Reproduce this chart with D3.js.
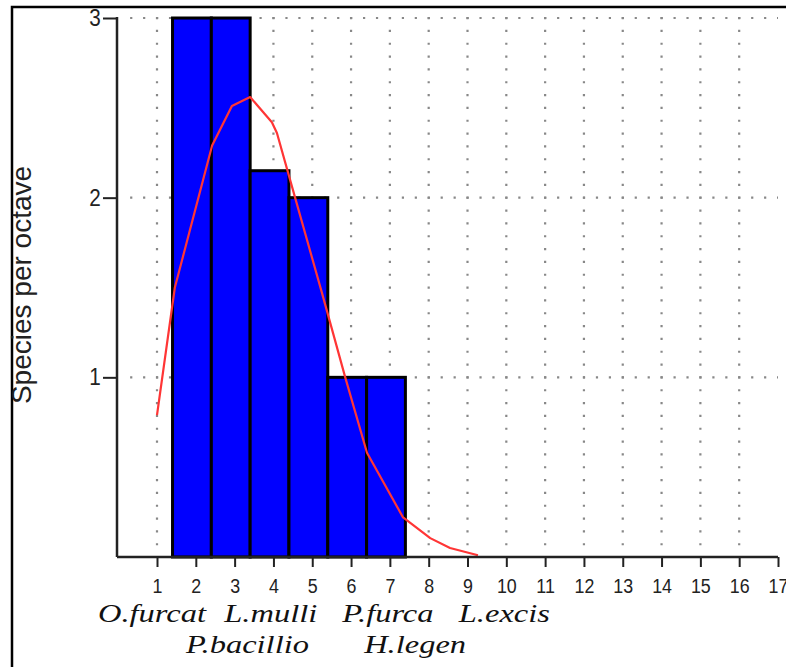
<!DOCTYPE html>
<html>
<head>
<meta charset="utf-8">
<script src="https://cdn.jsdelivr.net/npm/d3@7"></script>
<style>
  body { margin: 0; background: #fff; }
  svg { display: block; }
</style>
</head>
<body>
<div id="chart"></div>
<script>
// Octave histogram data
const octaves = [2, 3, 4, 5, 6, 7];
const speciesCounts = [3, 3, 2.15, 2, 1, 1];

// Fitted curve points (octave, species per octave)
const curveX = [1.0, 1.46, 2.42, 2.93, 3.40, 3.96, 4.09, 4.48, 5.25, 5.85, 6.41, 7.34, 8.04, 8.55, 9.27];
const curveY = [0.79, 1.5, 2.29, 2.51, 2.56, 2.42, 2.36, 2.06, 1.47, 1.0, 0.58, 0.22, 0.105, 0.05, 0.01];

// Axis ticks
const xTicks = d3.range(1, 18);
const yTicks = [1, 2, 3];

// Species labels under the axis (centre octave, text line)
const speciesNames = ['O.furcat', 'P.bacillio', 'L.mulli', 'H.legen', 'P.furca', 'L.excis'];
const speciesPos = [0.87, 3.33, 3.93, 7.65, 6.95, 9.95];
const speciesLine = [0, 1, 0, 1, 0, 0];

const width = 786, height = 667;

const svg = d3.select('#chart')
  .append('svg')
  .attr('width', width)
  .attr('height', height);

// Frame (top and left edges only visible)
svg.append('path')
  .attr('d', `M12,${height} V7 H${width}`)
  .attr('fill', 'none')
  .attr('stroke', '#000')
  .attr('stroke-width', 2.5);

// Scales
const x = d3.scaleLinear().domain([1, 17]).range([157, 778]);
const y = d3.scaleLinear().domain([0, 3]).range([557, 18]);
const axisLeftX = 117;

// Grid
const grid = svg.append('g')
  .attr('stroke', '#888')
  .attr('stroke-width', 2.2)
  .attr('fill', 'none');

const hPeriod = (x(2) - x(1)) / 3;
const vPeriod = (y(2) - y(3)) / 14;

grid.selectAll('.vgrid')
  .data(xTicks.filter(d => d < 17))
  .enter()
  .append('line')
  .attr('class', 'vgrid')
  .attr('x1', d => x(d))
  .attr('x2', d => x(d))
  .attr('y1', y(3) - 1)
  .attr('y2', y(0) - 6)
  .attr('stroke-dasharray', `2.2,${vPeriod - 2.2}`);

grid.selectAll('.hgrid')
  .data(yTicks)
  .enter()
  .append('line')
  .attr('class', 'hgrid')
  .attr('x1', x(1) - 1 - 2 * hPeriod)
  .attr('x2', x(17))
  .attr('y1', d => y(d))
  .attr('y2', d => y(d))
  .attr('stroke-dasharray', `2.2,${hPeriod - 2.2}`);

// Bars (each octave bin spans k-0.6 .. k+0.4)
svg.selectAll('.bar')
  .data(octaves)
  .enter()
  .append('rect')
  .attr('class', 'bar')
  .attr('x', d => x(d - 0.6))
  .attr('y', (d, i) => y(speciesCounts[i]))
  .attr('width', d => x(d + 0.4) - x(d - 0.6))
  .attr('height', (d, i) => y(0) - y(speciesCounts[i]))
  .attr('fill', '#0000ff')
  .attr('stroke', '#000')
  .attr('stroke-width', 3);

// Curve
const line = d3.line()
  .x(d => x(d[0]))
  .y(d => y(d[1]));

svg.append('path')
  .datum(curveX.map((d, i) => [d, curveY[i]]))
  .attr('fill', 'none')
  .attr('stroke', '#ff3535')
  .attr('stroke-width', 2.2)
  .attr('stroke-linejoin', 'round')
  .attr('d', line);

// Axes
const yAxis = svg.append('g')
  .attr('transform', `translate(${axisLeftX},0)`)
  .call(d3.axisLeft(y).tickValues(yTicks).tickSize(14).tickSizeOuter(0).tickPadding(4).tickFormat(d3.format('d')));
yAxis.select('.domain').remove();
yAxis.selectAll('.tick line').attr('stroke', '#222').attr('stroke-width', 2);
yAxis.selectAll('text')
  .attr('fill', '#222')
  .attr('transform', 'scale(0.9,1)')
  .style('font-family', 'Liberation Sans, Arial, sans-serif')
  .style('font-size', '23px');

svg.append('line')
  .attr('x1', axisLeftX).attr('x2', axisLeftX)
  .attr('y1', y(3) - 1).attr('y2', y(0))
  .attr('stroke', '#222')
  .attr('stroke-width', 2.5);

const xAxis = svg.append('g')
  .attr('transform', `translate(0,${y(0)})`)
  .call(d3.axisBottom(x).tickValues(xTicks).tickSize(10).tickSizeOuter(0).tickPadding(11).tickFormat(d3.format('d')));
xAxis.select('.domain').remove();
xAxis.selectAll('.tick line').attr('stroke', '#222').attr('stroke-width', 2);
xAxis.selectAll('text')
  .attr('fill', '#222')
  .attr('transform', 'scale(0.85,1)')
  .style('font-family', 'Liberation Sans, Arial, sans-serif')
  .style('font-size', '21px');

svg.append('line')
  .attr('x1', axisLeftX).attr('x2', x(17))
  .attr('y1', y(0)).attr('y2', y(0))
  .attr('stroke', '#222')
  .attr('stroke-width', 2.5);

// Y axis title
svg.append('text')
  .attr('transform', `translate(31,${285}) rotate(-90)`)
  .attr('text-anchor', 'middle')
  .attr('fill', '#222')
  .style('font-family', 'Liberation Sans, Arial, sans-serif')
  .style('font-size', '28px')
  .text('Species per octave');

// Species labels
const lineBaselines = [622, 653];
svg.selectAll('.species')
  .data(speciesNames)
  .enter()
  .append('text')
  .attr('class', 'species')
  .attr('transform', (d, i) => `translate(${x(speciesPos[i])},${lineBaselines[speciesLine[i]]}) scale(1.25,1)`)
  .attr('text-anchor', 'middle')
  .attr('fill', '#111')
  .style('font-family', "'Liberation Serif', serif")
  .style('font-style', 'italic')
  .style('font-size', '26px')
  .text(d => d);
</script>
</body>
</html>
